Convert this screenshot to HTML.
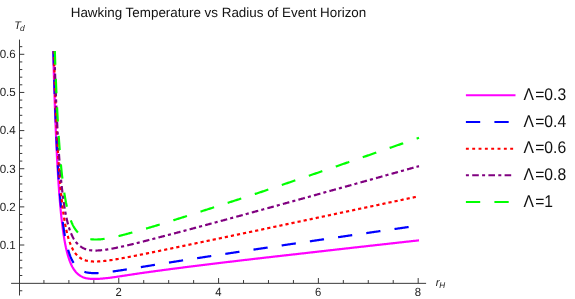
<!DOCTYPE html>
<html><head><meta charset="utf-8"><title>Hawking Temperature vs Radius of Event Horizon</title>
<style>
html,body{margin:0;padding:0;background:#fff;}
body{width:575px;height:299px;overflow:hidden;font-family:"Liberation Sans",sans-serif;}
svg{display:block;font-family:"Liberation Sans",sans-serif;will-change:transform;}
text{text-rendering:geometricPrecision;}
</style></head><body>
<svg width="575" height="299" viewBox="0 0 575 299">
<rect width="575" height="299" fill="#fff"/>
<defs><clipPath id="pc"><rect x="11" y="51.05" width="409" height="245"/></clipPath></defs>
<text x="218.5" y="16.8" text-anchor="middle" font-size="13.42px" fill="#111">Hawking Temperature vs Radius of Event Horizon</text>
<g stroke="#3a3a3a" stroke-width="1" fill="none">
<path d="M11.1,283.35H426.1M19.5,39.6V295.5"/>
<path d="M43.93,283.35v-3.3M68.88,283.35v-3.3M93.83,283.35v-3.3M118.78,283.35v-5.3M143.73,283.35v-3.3M168.68,283.35v-3.3M193.63,283.35v-3.3M218.58,283.35v-5.3M243.53,283.35v-3.3M268.48,283.35v-3.3M293.43,283.35v-3.3M318.38,283.35v-5.3M343.33,283.35v-3.3M368.28,283.35v-3.3M393.23,283.35v-3.3M418.18,283.35v-5.3M19.5,290.77h2.8M19.5,275.51h2.8M19.5,267.88h2.8M19.5,260.26h2.8M19.5,252.63h2.8M19.5,245.00h4.8M19.5,237.37h2.8M19.5,229.74h2.8M19.5,222.12h2.8M19.5,214.49h2.8M19.5,206.86h4.8M19.5,199.23h2.8M19.5,191.60h2.8M19.5,183.98h2.8M19.5,176.35h2.8M19.5,168.72h4.8M19.5,161.09h2.8M19.5,153.46h2.8M19.5,145.84h2.8M19.5,138.21h2.8M19.5,130.58h4.8M19.5,122.95h2.8M19.5,115.32h2.8M19.5,107.70h2.8M19.5,100.07h2.8M19.5,92.44h4.8M19.5,84.81h2.8M19.5,77.18h2.8M19.5,69.56h2.8M19.5,61.93h2.8M19.5,54.30h4.8M19.5,46.67h2.8"/>
</g>
<g font-size="11px" fill="#222"><text transform="translate(118.55,295.6) scale(1,1.06)" font-size="11.3px" text-anchor="middle">2</text><text transform="translate(218.35,295.6) scale(1,1.06)" font-size="11.3px" text-anchor="middle">4</text><text transform="translate(318.15,295.6) scale(1,1.06)" font-size="11.3px" text-anchor="middle">6</text><text transform="translate(417.95,295.6) scale(1,1.06)" font-size="11.3px" text-anchor="middle">8</text><text transform="translate(15.8,248.85) scale(1,1.02)" font-size="11.6px" text-anchor="end">0.1</text><text transform="translate(15.8,210.71) scale(1,1.02)" font-size="11.6px" text-anchor="end">0.2</text><text transform="translate(15.8,172.57) scale(1,1.02)" font-size="11.6px" text-anchor="end">0.3</text><text transform="translate(15.8,134.43) scale(1,1.02)" font-size="11.6px" text-anchor="end">0.4</text><text transform="translate(15.8,96.29) scale(1,1.02)" font-size="11.6px" text-anchor="end">0.5</text><text transform="translate(15.8,58.15) scale(1,1.02)" font-size="11.6px" text-anchor="end">0.6</text></g>
<text x="14.3" y="28.8" font-size="10.9px" font-style="italic" fill="#222">T<tspan font-size="8.4px" dx="-0.9" dy="1.7">d</tspan></text>
<text x="435.7" y="286" font-size="11px" font-style="italic" fill="#222">r<tspan font-size="8.2px" dx="-0.2" dy="1.5">H</tspan></text>
<g clip-path="url(#pc)">
<path d="M53.05,43.05 L53.13,46.31 L53.21,49.51 L53.29,52.67 L53.37,55.77 L53.45,58.83 L53.53,61.84 L53.61,64.81 L53.69,67.73 L53.77,70.60 L53.85,73.43 L53.93,76.22 L54.02,78.96 L54.10,81.67 L54.18,84.33 L54.26,86.95 L54.34,89.53 L54.42,92.07 L54.50,94.58 L54.58,97.05 L54.66,99.48 L54.74,101.87 L54.82,104.23 L54.90,106.55 L54.98,108.84 L55.06,111.10 L55.14,113.32 L55.22,115.51 L55.30,117.66 L55.38,119.79 L55.46,121.88 L55.54,123.94 L55.62,125.98 L55.70,127.98 L55.78,129.95 L55.86,131.90 L55.94,133.82 L56.02,135.70 L56.10,137.57 L56.18,139.40 L56.26,141.21 L56.34,142.99 L56.42,144.75 L56.50,146.48 L56.58,148.19 L56.66,149.87 L56.74,151.53 L56.82,153.17 L56.90,154.78 L56.98,156.37 L57.06,157.94 L57.14,159.48 L57.22,161.00 L57.30,162.51 L57.38,163.99 L57.46,165.45 L57.54,166.89 L57.62,168.31 L57.70,169.71 L57.78,171.09 L57.86,172.45 L57.94,173.79 L58.03,175.12 L58.11,176.42 L58.19,177.71 L58.27,178.98 L58.35,180.23 L58.43,181.47 L58.51,182.69 L58.59,183.89 L58.67,185.08 L58.75,186.25 L58.83,187.40 L58.91,188.54 L58.99,189.66 L59.07,190.77 L59.15,191.86 L59.23,192.94 L59.31,194.00 L59.39,195.05 L59.47,196.09 L59.55,197.11 L59.63,198.12 L59.71,199.11 L59.79,200.09 L59.87,201.06 L59.95,202.02 L60.03,202.96 L60.11,203.89 L60.19,204.81 L60.27,205.71 L60.35,206.61 L60.43,207.49 L60.51,208.36 L60.59,209.22 L60.67,210.07 L60.75,210.90 L60.83,211.73 L60.91,212.55 L60.99,213.35 L61.07,214.15 L61.15,214.93 L61.23,215.70 L61.31,216.47 L61.39,217.22 L61.47,217.97 L61.55,218.70 L61.63,219.43 L61.71,220.14 L61.79,220.85 L61.87,221.55 L61.95,222.24 L62.04,222.92 L62.12,223.59 L62.20,224.25 L62.28,224.91 L62.36,225.56 L62.44,226.19 L62.52,226.82 L62.60,227.45 L62.68,228.06 L62.76,228.67 L62.84,229.27 L62.92,229.86 L63.00,230.44 L63.08,231.02 L63.16,231.59 L63.24,232.15 L63.32,232.71 L63.40,233.26 L63.48,233.80 L63.56,234.34 L63.64,234.86 L63.72,235.39 L63.80,235.90 L63.88,236.41 L63.96,236.91 L64.04,237.41 L64.12,237.90 L64.20,238.39 L64.28,238.87 L64.36,239.34 L64.44,239.81 L64.52,240.27 L64.60,240.72 L64.68,241.17 L64.76,241.62 L64.84,242.06 L64.92,242.49 L65.00,242.92 L65.08,243.35 L65.16,243.76 L65.24,244.18 L65.32,244.59 L65.40,244.99 L65.48,245.39 L65.56,245.78 L65.64,246.17 L65.72,246.56 L65.80,246.94 L65.88,247.31 L65.96,247.68 L66.05,248.05 L66.13,248.41 L66.21,248.77 L66.29,249.12 L66.37,249.47 L66.45,249.82 L66.53,250.16 L66.61,250.50 L66.69,250.83 L66.77,251.16 L66.85,251.48 L66.93,251.80 L67.01,252.12 L67.09,252.44 L67.17,252.75 L67.25,253.05 L67.33,253.36 L67.41,253.66 L67.49,253.95 L67.57,254.24 L67.65,254.53 L67.73,254.82 L67.81,255.10 L67.89,255.38 L67.97,255.66 L68.05,255.93 L68.13,256.20 L68.21,256.46 L68.29,256.73 L68.37,256.99 L68.45,257.24 L68.53,257.50 L68.61,257.75 L68.69,258.00 L68.77,258.24 L68.85,258.49 L68.93,258.73 L69.01,258.96 L69.09,259.20 L69.17,259.43 L69.25,259.66 L69.33,259.88 L69.41,260.11 L69.49,260.33 L69.57,260.55 L69.65,260.76 L69.73,260.98 L69.81,261.19 L69.89,261.40 L69.97,261.60 L70.06,261.81 L70.14,262.01 L70.22,262.21 L70.30,262.41 L70.38,262.61 L70.46,262.81 L70.54,263.00 L70.62,263.19 L70.70,263.38 L70.78,263.57 L70.86,263.75 L70.94,263.93 L71.02,264.11 L71.10,264.29 L71.18,264.47 L71.26,264.64 L71.34,264.82 L71.42,264.99 L71.50,265.15 L71.58,265.32 L71.66,265.49 L71.74,265.65 L71.82,265.81 L71.90,265.97 L71.98,266.13 L72.06,266.28 L72.14,266.44 L72.22,266.59 L72.30,266.74 L72.38,266.89 L72.46,267.04 L72.54,267.18 L72.62,267.33 L72.70,267.47 L72.78,267.61 L72.86,267.75 L72.94,267.89 L73.02,268.03 L73.10,268.16 L73.18,268.29 L73.26,268.43 L73.34,268.56 L73.42,268.69 L73.50,268.81 L73.58,268.94 L73.66,269.07 L73.74,269.19 L73.82,269.31 L73.90,269.43 L73.98,269.55 L74.07,269.67 L74.15,269.79 L74.23,269.90 L74.31,270.02 L74.39,270.13 L74.47,270.24 L74.55,270.35 L74.63,270.46 L74.71,270.57 L74.79,270.68 L74.87,270.78 L74.95,270.89 L75.03,270.99 L75.11,271.09 L75.19,271.19 L75.27,271.29 L75.35,271.39 L75.43,271.49 L75.51,271.59 L75.59,271.68 L75.67,271.78 L75.75,271.87 L75.83,271.96 L75.91,272.06 L75.99,272.15 L76.07,272.24 L76.15,272.33 L76.23,272.41 L76.31,272.50 L76.39,272.59 L76.47,272.67 L76.55,272.75 L76.63,272.84 L76.71,272.92 L76.79,273.00 L76.87,273.08 L76.95,273.16 L77.03,273.24 L77.11,273.32 L77.19,273.39 L77.27,273.47 L77.35,273.55 L77.43,273.62 L77.51,273.69 L77.59,273.77 L77.67,273.84 L77.75,273.91 L77.83,273.98 L77.91,274.05 L77.99,274.12 L78.08,274.19 L78.16,274.25 L78.24,274.32 L78.32,274.38 L78.40,274.45 L78.48,274.51 L78.56,274.58 L78.64,274.64 L78.72,274.70 L78.80,274.76 L78.88,274.83 L78.96,274.89 L79.04,274.95 L79.12,275.00 L79.20,275.06 L79.28,275.12 L79.36,275.18 L79.44,275.23 L79.52,275.29 L79.60,275.34 L79.68,275.40 L79.76,275.45 L79.84,275.50 L79.92,275.56 L80.00,275.61 L80.20,275.74 L80.88,276.14 L81.56,276.51 L82.24,276.84 L82.92,277.15 L83.59,277.42 L84.27,277.67 L84.95,277.89 L85.63,278.07 L86.31,278.23 L86.99,278.36 L87.67,278.48 L88.35,278.59 L89.03,278.67 L89.71,278.75 L90.38,278.81 L91.06,278.86 L91.74,278.90 L92.42,278.93 L93.10,278.95 L93.78,278.96 L94.46,278.96 L95.14,278.95 L95.82,278.94 L96.49,278.92 L97.17,278.90 L97.85,278.87 L98.53,278.83 L99.21,278.79 L99.89,278.75 L100.57,278.70 L101.25,278.65 L101.93,278.59 L102.61,278.53 L103.28,278.47 L103.96,278.41 L104.64,278.34 L105.32,278.27 L106.00,278.20 L106.68,278.12 L107.36,278.05 L108.04,277.97 L108.72,277.89 L109.40,277.81 L110.07,277.73 L110.75,277.63 L111.43,277.54 L112.11,277.45 L112.79,277.36 L113.47,277.26 L114.15,277.16 L114.83,277.07 L115.51,276.97 L116.18,276.87 L116.86,276.77 L117.54,276.67 L118.22,276.57 L118.90,276.47 L119.58,276.37 L120.26,276.27 L120.94,276.17 L121.62,276.07 L122.30,275.96 L122.97,275.86 L123.65,275.76 L124.33,275.66 L125.01,275.55 L125.69,275.45 L126.37,275.35 L127.05,275.24 L127.73,275.14 L128.41,275.03 L129.08,274.93 L129.76,274.83 L130.44,274.72 L131.12,274.62 L131.80,274.51 L132.48,274.41 L133.16,274.31 L133.84,274.20 L134.52,274.10 L135.20,273.99 L135.87,273.89 L136.55,273.79 L137.23,273.68 L137.91,273.58 L138.59,273.48 L139.27,273.37 L139.95,273.27 L140.63,273.17 L141.31,273.08 L141.99,272.98 L142.66,272.89 L143.34,272.79 L144.02,272.70 L144.70,272.61 L145.38,272.51 L146.06,272.42 L146.74,272.32 L147.42,272.23 L148.10,272.14 L148.77,272.04 L149.45,271.95 L150.13,271.86 L150.81,271.76 L151.49,271.67 L152.17,271.58 L152.85,271.48 L153.53,271.39 L154.21,271.30 L154.89,271.21 L155.56,271.11 L156.24,271.02 L156.92,270.93 L157.60,270.84 L158.28,270.75 L158.96,270.66 L159.64,270.56 L160.32,270.47 L161.00,270.38 L161.67,270.29 L162.35,270.20 L163.03,270.11 L163.71,270.02 L164.39,269.93 L165.07,269.84 L165.75,269.75 L166.43,269.66 L167.11,269.57 L167.79,269.48 L168.46,269.39 L169.14,269.30 L169.82,269.21 L170.50,269.12 L171.18,269.03 L171.86,268.95 L172.54,268.86 L173.22,268.77 L173.90,268.68 L174.58,268.59 L175.25,268.50 L175.93,268.42 L176.61,268.33 L177.29,268.24 L177.97,268.15 L178.65,268.07 L179.33,267.98 L180.01,267.89 L180.69,267.80 L181.36,267.72 L182.04,267.63 L182.72,267.54 L183.40,267.46 L184.08,267.37 L184.76,267.28 L185.44,267.20 L186.12,267.11 L186.80,267.02 L187.48,266.94 L188.15,266.85 L188.83,266.77 L189.51,266.68 L190.19,266.60 L190.87,266.51 L191.55,266.43 L192.23,266.34 L192.91,266.25 L193.59,266.17 L194.26,266.09 L194.94,266.00 L195.62,265.92 L196.30,265.83 L196.98,265.75 L197.66,265.66 L198.34,265.58 L199.02,265.49 L199.70,265.41 L200.38,265.33 L201.05,265.24 L201.73,265.16 L202.41,265.07 L203.09,264.99 L203.77,264.91 L204.45,264.82 L205.13,264.74 L205.81,264.66 L206.49,264.57 L207.17,264.49 L207.84,264.41 L208.52,264.32 L209.20,264.24 L209.88,264.16 L210.56,264.08 L211.24,263.99 L211.92,263.91 L212.60,263.83 L213.28,263.75 L213.95,263.66 L214.63,263.58 L215.31,263.50 L215.99,263.42 L216.67,263.33 L217.35,263.25 L218.03,263.17 L218.71,263.09 L219.39,263.01 L220.07,262.93 L220.74,262.84 L221.42,262.76 L222.10,262.68 L222.78,262.60 L223.46,262.52 L224.14,262.44 L224.82,262.36 L225.50,262.27 L226.18,262.19 L226.85,262.11 L227.53,262.03 L228.21,261.95 L228.89,261.87 L229.57,261.79 L230.25,261.71 L230.93,261.63 L231.61,261.55 L232.29,261.47 L232.97,261.39 L233.64,261.31 L234.32,261.23 L235.00,261.15 L235.68,261.07 L236.36,260.99 L237.04,260.91 L237.72,260.83 L238.40,260.75 L239.08,260.67 L239.76,260.59 L240.43,260.51 L241.11,260.43 L241.79,260.35 L242.47,260.27 L243.15,260.19 L243.83,260.11 L244.51,260.03 L245.19,259.95 L245.87,259.87 L246.54,259.79 L247.22,259.72 L247.90,259.64 L248.58,259.56 L249.26,259.48 L249.94,259.40 L250.62,259.32 L251.30,259.24 L251.98,259.16 L252.66,259.09 L253.33,259.01 L254.01,258.93 L254.69,258.85 L255.37,258.77 L256.05,258.69 L256.73,258.62 L257.41,258.54 L258.09,258.46 L258.77,258.38 L259.44,258.30 L260.12,258.23 L260.80,258.15 L261.48,258.07 L262.16,257.99 L262.84,257.91 L263.52,257.84 L264.20,257.76 L264.88,257.68 L265.56,257.60 L266.23,257.53 L266.91,257.45 L267.59,257.37 L268.27,257.29 L268.95,257.22 L269.63,257.14 L270.31,257.06 L270.99,256.98 L271.67,256.91 L272.35,256.83 L273.02,256.75 L273.70,256.67 L274.38,256.60 L275.06,256.52 L275.74,256.44 L276.42,256.37 L277.10,256.29 L277.78,256.21 L278.46,256.14 L279.13,256.06 L279.81,255.98 L280.49,255.90 L281.17,255.83 L281.85,255.75 L282.53,255.67 L283.21,255.60 L283.89,255.52 L284.57,255.44 L285.25,255.37 L285.92,255.29 L286.60,255.21 L287.28,255.14 L287.96,255.06 L288.64,254.99 L289.32,254.91 L290.00,254.83 L290.68,254.76 L291.36,254.68 L292.03,254.60 L292.71,254.53 L293.39,254.45 L294.07,254.37 L294.75,254.30 L295.43,254.22 L296.11,254.15 L296.79,254.07 L297.47,253.99 L298.15,253.92 L298.82,253.84 L299.50,253.77 L300.18,253.69 L300.86,253.61 L301.54,253.53 L302.22,253.46 L302.90,253.38 L303.58,253.30 L304.26,253.22 L304.94,253.15 L305.61,253.07 L306.29,252.99 L306.97,252.91 L307.65,252.83 L308.33,252.76 L309.01,252.68 L309.69,252.60 L310.37,252.52 L311.05,252.45 L311.72,252.37 L312.40,252.29 L313.08,252.21 L313.76,252.14 L314.44,252.06 L315.12,251.98 L315.80,251.90 L316.48,251.83 L317.16,251.75 L317.84,251.67 L318.51,251.60 L319.19,251.52 L319.87,251.44 L320.55,251.36 L321.23,251.29 L321.91,251.21 L322.59,251.13 L323.27,251.06 L323.95,250.98 L324.62,250.90 L325.30,250.82 L325.98,250.75 L326.66,250.67 L327.34,250.59 L328.02,250.52 L328.70,250.44 L329.38,250.36 L330.06,250.29 L330.74,250.21 L331.41,250.13 L332.09,250.06 L332.77,249.98 L333.45,249.90 L334.13,249.83 L334.81,249.75 L335.49,249.67 L336.17,249.60 L336.85,249.52 L337.53,249.44 L338.20,249.37 L338.88,249.29 L339.56,249.21 L340.24,249.14 L340.92,249.06 L341.60,248.98 L342.28,248.91 L342.96,248.83 L343.64,248.75 L344.31,248.68 L344.99,248.60 L345.67,248.52 L346.35,248.45 L347.03,248.37 L347.71,248.29 L348.39,248.22 L349.07,248.14 L349.75,248.07 L350.43,247.99 L351.10,247.91 L351.78,247.84 L352.46,247.76 L353.14,247.68 L353.82,247.61 L354.50,247.53 L355.18,247.46 L355.86,247.38 L356.54,247.30 L357.21,247.23 L357.89,247.15 L358.57,247.08 L359.25,247.00 L359.93,246.92 L360.61,246.85 L361.29,246.77 L361.97,246.69 L362.65,246.62 L363.33,246.54 L364.00,246.47 L364.68,246.39 L365.36,246.31 L366.04,246.24 L366.72,246.16 L367.40,246.09 L368.08,246.01 L368.76,245.94 L369.44,245.86 L370.12,245.78 L370.79,245.71 L371.47,245.63 L372.15,245.56 L372.83,245.48 L373.51,245.40 L374.19,245.33 L374.87,245.25 L375.55,245.18 L376.23,245.10 L376.90,245.03 L377.58,244.95 L378.26,244.87 L378.94,244.80 L379.62,244.72 L380.30,244.65 L380.98,244.57 L381.66,244.50 L382.34,244.42 L383.02,244.35 L383.69,244.27 L384.37,244.19 L385.05,244.12 L385.73,244.04 L386.41,243.97 L387.09,243.89 L387.77,243.82 L388.45,243.74 L389.13,243.67 L389.80,243.59 L390.48,243.51 L391.16,243.44 L391.84,243.36 L392.52,243.29 L393.20,243.21 L393.88,243.14 L394.56,243.06 L395.24,242.99 L395.92,242.91 L396.59,242.84 L397.27,242.76 L397.95,242.69 L398.63,242.61 L399.31,242.53 L399.99,242.46 L400.67,242.38 L401.35,242.31 L402.03,242.23 L402.71,242.16 L403.38,242.08 L404.06,242.01 L404.74,241.93 L405.42,241.86 L406.10,241.78 L406.78,241.71 L407.46,241.63 L408.14,241.56 L408.82,241.48 L409.49,241.41 L410.17,241.33 L410.85,241.26 L411.53,241.18 L412.21,241.11 L412.89,241.03 L413.57,240.96 L414.25,240.88 L414.93,240.81 L415.61,240.73 L416.28,240.66 L416.96,240.58 L417.64,240.51 L418.32,240.43 L419.00,240.36" fill="none" stroke="#ff00ff" stroke-width="2.2"/>
<path d="M53.21,41.68 L53.29,44.85 L53.37,47.97 L53.45,51.04 L53.53,54.06 L53.61,57.04 L53.69,59.97 L53.77,62.86 L53.85,65.70 L53.93,68.50 L54.02,71.26 L54.10,73.97 L54.18,76.65 L54.26,79.28 L54.34,81.87 L54.42,84.43 L54.50,86.95 L54.58,89.42 L54.66,91.87 L54.74,94.27 L54.82,96.64 L54.90,98.98 L54.98,101.28 L55.06,103.54 L55.14,105.78 L55.22,107.98 L55.30,110.14 L55.38,112.28 L55.46,114.38 L55.54,116.46 L55.62,118.50 L55.70,120.51 L55.78,122.50 L55.86,124.46 L55.94,126.38 L56.02,128.28 L56.10,130.16 L56.18,132.00 L56.26,133.82 L56.34,135.61 L56.42,137.38 L56.50,139.12 L56.58,140.84 L56.66,142.53 L56.74,144.20 L56.82,145.85 L56.90,147.47 L56.98,149.07 L57.06,150.65 L57.14,152.20 L57.22,153.74 L57.30,155.25 L57.38,156.74 L57.46,158.21 L57.54,159.66 L57.62,161.09 L57.70,162.50 L57.78,163.89 L57.86,165.26 L57.94,166.61 L58.03,167.94 L58.11,169.26 L58.19,170.55 L58.27,171.83 L58.35,173.10 L58.43,174.34 L58.51,175.57 L58.59,176.78 L58.67,177.97 L58.75,179.15 L58.83,180.31 L58.91,181.46 L58.99,182.59 L59.07,183.71 L59.15,184.81 L59.23,185.90 L59.31,186.97 L59.39,188.03 L59.47,189.07 L59.55,190.10 L59.63,191.12 L59.71,192.12 L59.79,193.11 L59.87,194.09 L59.95,195.05 L60.03,196.00 L60.11,196.94 L60.19,197.86 L60.27,198.78 L60.35,199.68 L60.43,200.57 L60.51,201.45 L60.59,202.32 L60.67,203.17 L60.75,204.02 L60.83,204.85 L60.91,205.67 L60.99,206.49 L61.07,207.29 L61.15,208.08 L61.23,208.86 L61.31,209.63 L61.39,210.40 L61.47,211.15 L61.55,211.89 L61.63,212.62 L61.71,213.35 L61.79,214.06 L61.87,214.77 L61.95,215.46 L62.04,216.15 L62.12,216.83 L62.20,217.50 L62.28,218.16 L62.36,218.81 L62.44,219.46 L62.52,220.10 L62.60,220.73 L62.68,221.35 L62.76,221.96 L62.84,222.57 L62.92,223.17 L63.00,223.76 L63.08,224.34 L63.16,224.92 L63.24,225.49 L63.32,226.05 L63.40,226.60 L63.48,227.15 L63.56,227.69 L63.64,228.23 L63.72,228.76 L63.80,229.28 L63.88,229.80 L63.96,230.31 L64.04,230.81 L64.12,231.31 L64.20,231.80 L64.28,232.28 L64.36,232.76 L64.44,233.23 L64.52,233.70 L64.60,234.16 L64.68,234.62 L64.76,235.07 L64.84,235.52 L64.92,235.96 L65.00,236.39 L65.08,236.82 L65.16,237.24 L65.24,237.66 L65.32,238.08 L65.40,238.49 L65.48,238.89 L65.56,239.29 L65.64,239.69 L65.72,240.08 L65.80,240.46 L65.88,240.84 L65.96,241.22 L66.05,241.59 L66.13,241.96 L66.21,242.32 L66.29,242.68 L66.37,243.04 L66.45,243.39 L66.53,243.73 L66.61,244.08 L66.69,244.41 L66.77,244.75 L66.85,245.08 L66.93,245.41 L67.01,245.73 L67.09,246.05 L67.17,246.36 L67.25,246.67 L67.33,246.98 L67.41,247.29 L67.49,247.59 L67.57,247.88 L67.65,248.18 L67.73,248.47 L67.81,248.76 L67.89,249.04 L67.97,249.32 L68.05,249.60 L68.13,249.87 L68.21,250.14 L68.29,250.41 L68.37,250.68 L68.45,250.94 L68.53,251.20 L68.61,251.45 L68.69,251.71 L68.77,251.96 L68.85,252.20 L68.93,252.45 L69.01,252.69 L69.09,252.93 L69.17,253.16 L69.25,253.40 L69.33,253.63 L69.41,253.85 L69.49,254.08 L69.57,254.30 L69.65,254.52 L69.73,254.74 L69.81,254.96 L69.89,255.17 L69.97,255.38 L70.06,255.59 L70.14,255.80 L70.22,256.00 L70.30,256.20 L70.38,256.41 L70.46,256.60 L70.54,256.80 L70.62,256.99 L70.70,257.19 L70.78,257.37 L70.86,257.56 L70.94,257.75 L71.02,257.93 L71.10,258.11 L71.18,258.29 L71.26,258.47 L71.34,258.64 L71.42,258.82 L71.50,258.99 L71.58,259.16 L71.66,259.33 L71.74,259.49 L71.82,259.66 L71.90,259.82 L71.98,259.98 L72.06,260.14 L72.14,260.29 L72.22,260.45 L72.30,260.60 L72.38,260.75 L72.46,260.90 L72.54,261.05 L72.62,261.20 L72.70,261.34 L72.78,261.49 L72.86,261.63 L72.94,261.77 L73.02,261.91 L73.10,262.05 L73.18,262.18 L73.26,262.32 L73.34,262.45 L73.42,262.58 L73.50,262.71 L73.58,262.84 L73.66,262.97 L73.74,263.09 L73.82,263.22 L73.90,263.34 L73.98,263.46 L74.07,263.58 L74.15,263.70 L74.23,263.82 L74.31,263.93 L74.39,264.05 L74.47,264.16 L74.55,264.28 L74.63,264.39 L74.71,264.50 L74.79,264.61 L74.87,264.71 L74.95,264.82 L75.03,264.93 L75.11,265.03 L75.19,265.13 L75.27,265.24 L75.35,265.34 L75.43,265.44 L75.51,265.53 L75.59,265.63 L75.67,265.73 L75.75,265.82 L75.83,265.92 L75.91,266.01 L75.99,266.10 L76.07,266.20 L76.15,266.29 L76.23,266.38 L76.31,266.46 L76.39,266.55 L76.47,266.64 L76.55,266.72 L76.63,266.81 L76.71,266.89 L76.79,266.98 L76.87,267.06 L76.95,267.14 L77.03,267.22 L77.11,267.30 L77.19,267.38 L77.27,267.45 L77.35,267.53 L77.43,267.61 L77.51,267.68 L77.59,267.75 L77.67,267.83 L77.75,267.90 L77.83,267.97 L77.91,268.04 L77.99,268.11 L78.08,268.18 L78.16,268.25 L78.24,268.32 L78.32,268.39 L78.40,268.45 L78.48,268.52 L78.56,268.58 L78.64,268.65 L78.72,268.71 L78.80,268.77 L78.88,268.84 L78.96,268.90 L79.04,268.96 L79.12,269.02 L79.20,269.08 L79.28,269.14 L79.36,269.19 L79.44,269.25 L79.52,269.31 L79.60,269.36 L79.68,269.42 L79.76,269.47 L79.84,269.53 L79.92,269.58 L80.00,269.63 L80.20,269.76 L80.88,270.18 L81.56,270.55 L82.24,270.89 L82.92,271.20 L83.59,271.48 L84.27,271.73 L84.95,271.95 L85.63,272.14 L86.31,272.31 L86.99,272.46 L87.67,272.59 L88.35,272.70 L89.03,272.79 L89.71,272.88 L90.38,272.94 L91.06,273.00 L91.74,273.04 L92.42,273.08 L93.10,273.10 L93.78,273.11 L94.46,273.12 L95.14,273.12 L95.82,273.11 L96.49,273.09 L97.17,273.07 L97.85,273.04 L98.53,273.01 L99.21,272.97 L99.89,272.92 L100.57,272.87 L101.25,272.82 L101.93,272.76 L102.61,272.70 L103.28,272.64 L103.96,272.57 L104.64,272.50 L105.32,272.43 L106.00,272.35 L106.68,272.27 L107.36,272.19 L108.04,272.11 L108.72,272.03 L109.40,271.94 L110.07,271.85 L110.75,271.76 L111.43,271.67 L112.11,271.58 L112.79,271.49 L113.47,271.39 L114.15,271.29 L114.83,271.20 L115.51,271.10 L116.18,271.00 L116.86,270.90 L117.54,270.80 L118.22,270.70 L118.90,270.60 L119.58,270.49 L120.26,270.39 L120.94,270.29 L121.62,270.18 L122.30,270.08 L122.97,269.97 L123.65,269.87 L124.33,269.76 L125.01,269.65 L125.69,269.55 L126.37,269.44 L127.05,269.33 L127.73,269.22 L128.41,269.11 L129.08,269.01 L129.76,268.90 L130.44,268.79 L131.12,268.68 L131.80,268.57 L132.48,268.46 L133.16,268.35 L133.84,268.24 L134.52,268.13 L135.20,268.02 L135.87,267.91 L136.55,267.80 L137.23,267.69 L137.91,267.59 L138.59,267.48 L139.27,267.37 L139.95,267.26 L140.63,267.15 L141.31,267.04 L141.99,266.93 L142.66,266.82 L143.34,266.71 L144.02,266.60 L144.70,266.49 L145.38,266.38 L146.06,266.27 L146.74,266.16 L147.42,266.05 L148.10,265.94 L148.77,265.83 L149.45,265.72 L150.13,265.61 L150.81,265.50 L151.49,265.39 L152.17,265.28 L152.85,265.17 L153.53,265.06 L154.21,264.95 L154.89,264.84 L155.56,264.73 L156.24,264.62 L156.92,264.51 L157.60,264.41 L158.28,264.30 L158.96,264.19 L159.64,264.08 L160.32,263.97 L161.00,263.86 L161.67,263.75 L162.35,263.64 L163.03,263.54 L163.71,263.43 L164.39,263.32 L165.07,263.21 L165.75,263.10 L166.43,262.99 L167.11,262.89 L167.79,262.78 L168.46,262.67 L169.14,262.56 L169.82,262.46 L170.50,262.35 L171.18,262.24 L171.86,262.13 L172.54,262.03 L173.22,261.92 L173.90,261.81 L174.58,261.70 L175.25,261.60 L175.93,261.49 L176.61,261.38 L177.29,261.28 L177.97,261.17 L178.65,261.06 L179.33,260.96 L180.01,260.85 L180.69,260.74 L181.36,260.64 L182.04,260.53 L182.72,260.42 L183.40,260.32 L184.08,260.21 L184.76,260.10 L185.44,260.00 L186.12,259.89 L186.80,259.79 L187.48,259.68 L188.15,259.57 L188.83,259.47 L189.51,259.36 L190.19,259.26 L190.87,259.15 L191.55,259.05 L192.23,258.94 L192.91,258.84 L193.59,258.73 L194.26,258.63 L194.94,258.52 L195.62,258.42 L196.30,258.31 L196.98,258.21 L197.66,258.10 L198.34,258.00 L199.02,257.89 L199.70,257.79 L200.38,257.68 L201.05,257.58 L201.73,257.47 L202.41,257.37 L203.09,257.26 L203.77,257.16 L204.45,257.05 L205.13,256.95 L205.81,256.85 L206.49,256.74 L207.17,256.64 L207.84,256.53 L208.52,256.43 L209.20,256.33 L209.88,256.22 L210.56,256.12 L211.24,256.01 L211.92,255.91 L212.60,255.81 L213.28,255.70 L213.95,255.60 L214.63,255.50 L215.31,255.39 L215.99,255.29 L216.67,255.19 L217.35,255.08 L218.03,254.98 L218.71,254.88 L219.39,254.77 L220.07,254.67 L220.74,254.57 L221.42,254.46 L222.10,254.36 L222.78,254.26 L223.46,254.15 L224.14,254.05 L224.82,253.95 L225.50,253.85 L226.18,253.74 L226.85,253.64 L227.53,253.54 L228.21,253.44 L228.89,253.33 L229.57,253.23 L230.25,253.13 L230.93,253.03 L231.61,252.92 L232.29,252.82 L232.97,252.72 L233.64,252.62 L234.32,252.51 L235.00,252.41 L235.68,252.31 L236.36,252.21 L237.04,252.10 L237.72,252.00 L238.40,251.90 L239.08,251.80 L239.76,251.70 L240.43,251.59 L241.11,251.49 L241.79,251.39 L242.47,251.29 L243.15,251.19 L243.83,251.09 L244.51,250.98 L245.19,250.88 L245.87,250.78 L246.54,250.68 L247.22,250.58 L247.90,250.48 L248.58,250.37 L249.26,250.27 L249.94,250.17 L250.62,250.07 L251.30,249.97 L251.98,249.87 L252.66,249.77 L253.33,249.66 L254.01,249.56 L254.69,249.46 L255.37,249.36 L256.05,249.26 L256.73,249.16 L257.41,249.06 L258.09,248.96 L258.77,248.86 L259.44,248.75 L260.12,248.65 L260.80,248.55 L261.48,248.45 L262.16,248.35 L262.84,248.25 L263.52,248.15 L264.20,248.05 L264.88,247.95 L265.56,247.85 L266.23,247.75 L266.91,247.64 L267.59,247.54 L268.27,247.44 L268.95,247.34 L269.63,247.24 L270.31,247.14 L270.99,247.04 L271.67,246.94 L272.35,246.84 L273.02,246.74 L273.70,246.64 L274.38,246.54 L275.06,246.44 L275.74,246.34 L276.42,246.24 L277.10,246.14 L277.78,246.04 L278.46,245.94 L279.13,245.84 L279.81,245.74 L280.49,245.64 L281.17,245.54 L281.85,245.44 L282.53,245.34 L283.21,245.23 L283.89,245.13 L284.57,245.03 L285.25,244.93 L285.92,244.83 L286.60,244.73 L287.28,244.63 L287.96,244.53 L288.64,244.43 L289.32,244.33 L290.00,244.23 L290.68,244.13 L291.36,244.03 L292.03,243.93 L292.71,243.84 L293.39,243.74 L294.07,243.64 L294.75,243.54 L295.43,243.44 L296.11,243.34 L296.79,243.24 L297.47,243.14 L298.15,243.04 L298.82,242.94 L299.50,242.84 L300.18,242.74 L300.86,242.64 L301.54,242.54 L302.22,242.44 L302.90,242.34 L303.58,242.24 L304.26,242.14 L304.94,242.04 L305.61,241.94 L306.29,241.84 L306.97,241.74 L307.65,241.64 L308.33,241.54 L309.01,241.44 L309.69,241.34 L310.37,241.25 L311.05,241.15 L311.72,241.05 L312.40,240.95 L313.08,240.85 L313.76,240.75 L314.44,240.65 L315.12,240.55 L315.80,240.45 L316.48,240.35 L317.16,240.25 L317.84,240.15 L318.51,240.05 L319.19,239.95 L319.87,239.86 L320.55,239.76 L321.23,239.66 L321.91,239.56 L322.59,239.46 L323.27,239.36 L323.95,239.26 L324.62,239.16 L325.30,239.06 L325.98,238.96 L326.66,238.86 L327.34,238.77 L328.02,238.67 L328.70,238.57 L329.38,238.47 L330.06,238.37 L330.74,238.27 L331.41,238.17 L332.09,238.07 L332.77,237.97 L333.45,237.88 L334.13,237.78 L334.81,237.68 L335.49,237.58 L336.17,237.48 L336.85,237.38 L337.53,237.28 L338.20,237.18 L338.88,237.09 L339.56,236.99 L340.24,236.89 L340.92,236.79 L341.60,236.69 L342.28,236.59 L342.96,236.49 L343.64,236.39 L344.31,236.30 L344.99,236.20 L345.67,236.10 L346.35,236.00 L347.03,235.90 L347.71,235.80 L348.39,235.70 L349.07,235.60 L349.75,235.51 L350.43,235.41 L351.10,235.31 L351.78,235.21 L352.46,235.11 L353.14,235.01 L353.82,234.92 L354.50,234.82 L355.18,234.72 L355.86,234.62 L356.54,234.52 L357.21,234.42 L357.89,234.32 L358.57,234.23 L359.25,234.13 L359.93,234.03 L360.61,233.93 L361.29,233.83 L361.97,233.73 L362.65,233.64 L363.33,233.54 L364.00,233.44 L364.68,233.34 L365.36,233.24 L366.04,233.14 L366.72,233.05 L367.40,232.95 L368.08,232.85 L368.76,232.75 L369.44,232.65 L370.12,232.55 L370.79,232.46 L371.47,232.36 L372.15,232.26 L372.83,232.16 L373.51,232.06 L374.19,231.96 L374.87,231.87 L375.55,231.77 L376.23,231.67 L376.90,231.57 L377.58,231.47 L378.26,231.38 L378.94,231.28 L379.62,231.18 L380.30,231.08 L380.98,230.98 L381.66,230.88 L382.34,230.79 L383.02,230.69 L383.69,230.59 L384.37,230.49 L385.05,230.39 L385.73,230.30 L386.41,230.20 L387.09,230.10 L387.77,230.00 L388.45,229.90 L389.13,229.81 L389.80,229.71 L390.48,229.61 L391.16,229.51 L391.84,229.41 L392.52,229.32 L393.20,229.22 L393.88,229.12 L394.56,229.02 L395.24,228.92 L395.92,228.83 L396.59,228.73 L397.27,228.63 L397.95,228.53 L398.63,228.43 L399.31,228.34 L399.99,228.24 L400.67,228.14 L401.35,228.04 L402.03,227.95 L402.71,227.85 L403.38,227.75 L404.06,227.65 L404.74,227.55 L405.42,227.46 L406.10,227.36 L406.78,227.26 L407.46,227.16 L408.14,227.06 L408.82,226.97 L409.49,226.87 L410.17,226.77 L410.85,226.67 L411.53,226.58 L412.21,226.48 L412.89,226.38 L413.57,226.28 L414.25,226.18 L414.93,226.09 L415.61,225.99 L416.28,225.89 L416.96,225.79 L417.64,225.70 L418.32,225.60 L419.00,225.50" fill="none" stroke="#0000ff" stroke-width="2.2" stroke-dasharray="14.3 14.2" stroke-dashoffset="19.02"/>
<path d="M53.61,41.50 L53.69,44.46 L53.77,47.37 L53.85,50.24 L53.93,53.06 L54.02,55.85 L54.10,58.58 L54.18,61.28 L54.26,63.94 L54.34,66.56 L54.42,69.14 L54.50,71.68 L54.58,74.18 L54.66,76.65 L54.74,79.07 L54.82,81.47 L54.90,83.82 L54.98,86.15 L55.06,88.44 L55.14,90.69 L55.22,92.91 L55.30,95.10 L55.38,97.26 L55.46,99.39 L55.54,101.48 L55.62,103.55 L55.70,105.59 L55.78,107.59 L55.86,109.57 L55.94,111.52 L56.02,113.44 L56.10,115.33 L56.18,117.20 L56.26,119.04 L56.34,120.85 L56.42,122.64 L56.50,124.40 L56.58,126.14 L56.66,127.86 L56.74,129.55 L56.82,131.21 L56.90,132.85 L56.98,134.47 L57.06,136.07 L57.14,137.64 L57.22,139.20 L57.30,140.73 L57.38,142.24 L57.46,143.73 L57.54,145.20 L57.62,146.64 L57.70,148.07 L57.78,149.48 L57.86,150.87 L57.94,152.24 L58.03,153.59 L58.11,154.93 L58.19,156.24 L58.27,157.54 L58.35,158.82 L58.43,160.08 L58.51,161.33 L58.59,162.56 L58.67,163.77 L58.75,164.97 L58.83,166.15 L58.91,167.31 L58.99,168.46 L59.07,169.59 L59.15,170.71 L59.23,171.82 L59.31,172.90 L59.39,173.98 L59.47,175.04 L59.55,176.09 L59.63,177.12 L59.71,178.14 L59.79,179.14 L59.87,180.14 L59.95,181.12 L60.03,182.08 L60.11,183.04 L60.19,183.98 L60.27,184.91 L60.35,185.83 L60.43,186.73 L60.51,187.63 L60.59,188.51 L60.67,189.38 L60.75,190.24 L60.83,191.09 L60.91,191.93 L60.99,192.76 L61.07,193.58 L61.15,194.38 L61.23,195.18 L61.31,195.97 L61.39,196.74 L61.47,197.51 L61.55,198.27 L61.63,199.01 L61.71,199.75 L61.79,200.48 L61.87,201.20 L61.95,201.91 L62.04,202.61 L62.12,203.30 L62.20,203.99 L62.28,204.66 L62.36,205.33 L62.44,205.99 L62.52,206.64 L62.60,207.29 L62.68,207.92 L62.76,208.55 L62.84,209.17 L62.92,209.78 L63.00,210.38 L63.08,210.98 L63.16,211.57 L63.24,212.15 L63.32,212.73 L63.40,213.30 L63.48,213.86 L63.56,214.41 L63.64,214.96 L63.72,215.50 L63.80,216.04 L63.88,216.56 L63.96,217.09 L64.04,217.60 L64.12,218.11 L64.20,218.61 L64.28,219.11 L64.36,219.60 L64.44,220.09 L64.52,220.57 L64.60,221.04 L64.68,221.51 L64.76,221.97 L64.84,222.43 L64.92,222.88 L65.00,223.33 L65.08,223.77 L65.16,224.21 L65.24,224.64 L65.32,225.06 L65.40,225.48 L65.48,225.90 L65.56,226.31 L65.64,226.72 L65.72,227.12 L65.80,227.51 L65.88,227.91 L65.96,228.29 L66.05,228.68 L66.13,229.05 L66.21,229.43 L66.29,229.80 L66.37,230.16 L66.45,230.53 L66.53,230.88 L66.61,231.24 L66.69,231.58 L66.77,231.93 L66.85,232.27 L66.93,232.61 L67.01,232.94 L67.09,233.27 L67.17,233.59 L67.25,233.92 L67.33,234.23 L67.41,234.55 L67.49,234.86 L67.57,235.17 L67.65,235.47 L67.73,235.77 L67.81,236.07 L67.89,236.36 L67.97,236.65 L68.05,236.94 L68.13,237.22 L68.21,237.50 L68.29,237.78 L68.37,238.05 L68.45,238.32 L68.53,238.59 L68.61,238.86 L68.69,239.12 L68.77,239.38 L68.85,239.64 L68.93,239.89 L69.01,240.14 L69.09,240.39 L69.17,240.63 L69.25,240.87 L69.33,241.11 L69.41,241.35 L69.49,241.58 L69.57,241.82 L69.65,242.04 L69.73,242.27 L69.81,242.50 L69.89,242.72 L69.97,242.94 L70.06,243.15 L70.14,243.37 L70.22,243.58 L70.30,243.79 L70.38,243.99 L70.46,244.20 L70.54,244.40 L70.62,244.60 L70.70,244.80 L70.78,245.00 L70.86,245.19 L70.94,245.38 L71.02,245.57 L71.10,245.76 L71.18,245.94 L71.26,246.13 L71.34,246.31 L71.42,246.49 L71.50,246.67 L71.58,246.84 L71.66,247.02 L71.74,247.19 L71.82,247.36 L71.90,247.52 L71.98,247.69 L72.06,247.86 L72.14,248.02 L72.22,248.18 L72.30,248.34 L72.38,248.49 L72.46,248.65 L72.54,248.80 L72.62,248.96 L72.70,249.11 L72.78,249.26 L72.86,249.40 L72.94,249.55 L73.02,249.69 L73.10,249.84 L73.18,249.98 L73.26,250.12 L73.34,250.25 L73.42,250.39 L73.50,250.53 L73.58,250.66 L73.66,250.79 L73.74,250.92 L73.82,251.05 L73.90,251.18 L73.98,251.31 L74.07,251.43 L74.15,251.55 L74.23,251.68 L74.31,251.80 L74.39,251.92 L74.47,252.04 L74.55,252.15 L74.63,252.27 L74.71,252.38 L74.79,252.50 L74.87,252.61 L74.95,252.72 L75.03,252.83 L75.11,252.94 L75.19,253.05 L75.27,253.15 L75.35,253.26 L75.43,253.36 L75.51,253.47 L75.59,253.57 L75.67,253.67 L75.75,253.77 L75.83,253.87 L75.91,253.96 L75.99,254.06 L76.07,254.15 L76.15,254.25 L76.23,254.34 L76.31,254.43 L76.39,254.53 L76.47,254.62 L76.55,254.71 L76.63,254.79 L76.71,254.88 L76.79,254.97 L76.87,255.05 L76.95,255.14 L77.03,255.22 L77.11,255.30 L77.19,255.39 L77.27,255.47 L77.35,255.55 L77.43,255.63 L77.51,255.71 L77.59,255.78 L77.67,255.86 L77.75,255.94 L77.83,256.01 L77.91,256.08 L77.99,256.16 L78.08,256.23 L78.16,256.30 L78.24,256.37 L78.32,256.44 L78.40,256.51 L78.48,256.58 L78.56,256.65 L78.64,256.72 L78.72,256.78 L78.80,256.85 L78.88,256.91 L78.96,256.98 L79.04,257.04 L79.12,257.10 L79.20,257.17 L79.28,257.23 L79.36,257.29 L79.44,257.35 L79.52,257.41 L79.60,257.47 L79.68,257.53 L79.76,257.58 L79.84,257.64 L79.92,257.70 L80.00,257.75 L80.20,257.89 L80.87,258.32 L81.55,258.71 L82.22,259.06 L82.89,259.38 L83.57,259.67 L84.24,259.93 L84.91,260.17 L85.59,260.38 L86.26,260.57 L86.93,260.73 L87.61,260.88 L88.28,261.01 L88.95,261.12 L89.63,261.22 L90.30,261.30 L90.97,261.37 L91.65,261.43 L92.32,261.47 L92.99,261.51 L93.67,261.53 L94.34,261.54 L95.01,261.55 L95.69,261.54 L96.36,261.53 L97.03,261.52 L97.71,261.49 L98.38,261.46 L99.05,261.42 L99.73,261.38 L100.40,261.33 L101.07,261.28 L101.75,261.22 L102.42,261.16 L103.09,261.10 L103.77,261.03 L104.44,260.95 L105.11,260.88 L105.79,260.80 L106.46,260.72 L107.13,260.63 L107.81,260.54 L108.48,260.45 L109.15,260.36 L109.83,260.26 L110.50,260.17 L111.17,260.07 L111.85,259.97 L112.52,259.86 L113.19,259.76 L113.87,259.65 L114.54,259.54 L115.21,259.43 L115.89,259.32 L116.56,259.21 L117.23,259.10 L117.91,258.98 L118.58,258.87 L119.25,258.75 L119.93,258.63 L120.60,258.51 L121.27,258.39 L121.95,258.27 L122.62,258.15 L123.29,258.03 L123.97,257.90 L124.64,257.78 L125.31,257.65 L125.99,257.53 L126.66,257.40 L127.33,257.28 L128.01,257.15 L128.68,257.02 L129.35,256.89 L130.03,256.76 L130.70,256.63 L131.37,256.50 L132.05,256.37 L132.72,256.24 L133.39,256.11 L134.07,255.98 L134.74,255.85 L135.41,255.72 L136.09,255.59 L136.76,255.45 L137.43,255.32 L138.11,255.19 L138.78,255.05 L139.45,254.92 L140.13,254.79 L140.80,254.65 L141.47,254.52 L142.15,254.38 L142.82,254.25 L143.49,254.11 L144.17,253.98 L144.84,253.84 L145.51,253.71 L146.19,253.57 L146.86,253.43 L147.53,253.30 L148.21,253.16 L148.88,253.02 L149.55,252.89 L150.23,252.75 L150.90,252.61 L151.57,252.48 L152.25,252.34 L152.92,252.20 L153.59,252.06 L154.27,251.93 L154.94,251.79 L155.61,251.65 L156.29,251.51 L156.96,251.37 L157.63,251.24 L158.31,251.10 L158.98,250.96 L159.65,250.82 L160.33,250.68 L161.00,250.54 L161.67,250.41 L162.35,250.27 L163.02,250.13 L163.69,249.99 L164.37,249.85 L165.04,249.71 L165.72,249.57 L166.39,249.43 L167.06,249.29 L167.74,249.16 L168.41,249.02 L169.08,248.88 L169.76,248.74 L170.43,248.60 L171.10,248.46 L171.78,248.32 L172.45,248.18 L173.12,248.04 L173.80,247.90 L174.47,247.76 L175.14,247.62 L175.82,247.48 L176.49,247.34 L177.16,247.20 L177.84,247.06 L178.51,246.92 L179.18,246.78 L179.86,246.64 L180.53,246.50 L181.20,246.36 L181.88,246.22 L182.55,246.08 L183.22,245.94 L183.90,245.80 L184.57,245.66 L185.24,245.52 L185.92,245.38 L186.59,245.24 L187.26,245.10 L187.94,244.96 L188.61,244.82 L189.28,244.68 L189.96,244.54 L190.63,244.40 L191.30,244.26 L191.98,244.12 L192.65,243.98 L193.32,243.84 L194.00,243.70 L194.67,243.56 L195.34,243.42 L196.02,243.28 L196.69,243.14 L197.36,243.00 L198.04,242.86 L198.71,242.72 L199.38,242.58 L200.06,242.44 L200.73,242.30 L201.40,242.16 L202.08,242.02 L202.75,241.87 L203.42,241.73 L204.10,241.59 L204.77,241.45 L205.44,241.31 L206.12,241.17 L206.79,241.03 L207.46,240.89 L208.14,240.75 L208.81,240.61 L209.48,240.47 L210.16,240.33 L210.83,240.19 L211.50,240.05 L212.18,239.91 L212.85,239.77 L213.52,239.63 L214.20,239.48 L214.87,239.34 L215.54,239.20 L216.22,239.06 L216.89,238.92 L217.56,238.78 L218.24,238.64 L218.91,238.50 L219.58,238.36 L220.26,238.22 L220.93,238.08 L221.60,237.94 L222.28,237.80 L222.95,237.66 L223.62,237.52 L224.30,237.37 L224.97,237.23 L225.64,237.09 L226.32,236.95 L226.99,236.81 L227.66,236.67 L228.34,236.53 L229.01,236.39 L229.68,236.25 L230.36,236.11 L231.03,235.97 L231.70,235.83 L232.38,235.69 L233.05,235.54 L233.72,235.40 L234.40,235.26 L235.07,235.12 L235.74,234.98 L236.42,234.84 L237.09,234.70 L237.76,234.56 L238.44,234.42 L239.11,234.28 L239.78,234.14 L240.46,234.00 L241.13,233.86 L241.80,233.71 L242.48,233.57 L243.15,233.43 L243.82,233.29 L244.50,233.15 L245.17,233.01 L245.84,232.87 L246.52,232.73 L247.19,232.59 L247.86,232.45 L248.54,232.31 L249.21,232.17 L249.88,232.02 L250.56,231.88 L251.23,231.74 L251.90,231.60 L252.58,231.46 L253.25,231.31 L253.92,231.17 L254.60,231.03 L255.27,230.89 L255.94,230.74 L256.62,230.60 L257.29,230.46 L257.96,230.32 L258.64,230.17 L259.31,230.03 L259.98,229.89 L260.66,229.75 L261.33,229.60 L262.00,229.46 L262.68,229.32 L263.35,229.18 L264.02,229.03 L264.70,228.89 L265.37,228.75 L266.04,228.61 L266.72,228.46 L267.39,228.32 L268.06,228.18 L268.74,228.04 L269.41,227.89 L270.08,227.75 L270.76,227.61 L271.43,227.47 L272.10,227.32 L272.78,227.18 L273.45,227.04 L274.12,226.90 L274.80,226.75 L275.47,226.61 L276.14,226.47 L276.82,226.33 L277.49,226.18 L278.16,226.04 L278.84,225.90 L279.51,225.76 L280.18,225.62 L280.86,225.47 L281.53,225.33 L282.20,225.19 L282.88,225.05 L283.55,224.90 L284.22,224.76 L284.90,224.62 L285.57,224.48 L286.24,224.33 L286.92,224.19 L287.59,224.05 L288.26,223.91 L288.94,223.76 L289.61,223.62 L290.28,223.48 L290.96,223.34 L291.63,223.19 L292.30,223.05 L292.98,222.91 L293.65,222.77 L294.32,222.62 L295.00,222.48 L295.67,222.34 L296.34,222.20 L297.02,222.05 L297.69,221.91 L298.36,221.77 L299.04,221.63 L299.71,221.48 L300.38,221.34 L301.06,221.20 L301.73,221.06 L302.40,220.91 L303.08,220.77 L303.75,220.63 L304.42,220.49 L305.10,220.34 L305.77,220.20 L306.44,220.06 L307.12,219.92 L307.79,219.77 L308.46,219.63 L309.14,219.49 L309.81,219.35 L310.48,219.20 L311.16,219.06 L311.83,218.92 L312.50,218.78 L313.18,218.63 L313.85,218.49 L314.52,218.35 L315.20,218.21 L315.87,218.06 L316.54,217.92 L317.22,217.78 L317.89,217.64 L318.56,217.49 L319.24,217.35 L319.91,217.21 L320.58,217.07 L321.26,216.92 L321.93,216.78 L322.60,216.64 L323.28,216.50 L323.95,216.35 L324.62,216.21 L325.30,216.07 L325.97,215.93 L326.64,215.78 L327.32,215.64 L327.99,215.50 L328.66,215.36 L329.34,215.21 L330.01,215.07 L330.68,214.93 L331.36,214.79 L332.03,214.64 L332.71,214.50 L333.38,214.36 L334.05,214.22 L334.73,214.07 L335.40,213.93 L336.07,213.79 L336.75,213.65 L337.42,213.50 L338.09,213.36 L338.77,213.22 L339.44,213.08 L340.11,212.93 L340.79,212.79 L341.46,212.65 L342.13,212.51 L342.81,212.37 L343.48,212.22 L344.15,212.08 L344.83,211.94 L345.50,211.80 L346.17,211.65 L346.85,211.51 L347.52,211.37 L348.19,211.23 L348.87,211.08 L349.54,210.94 L350.21,210.80 L350.89,210.66 L351.56,210.51 L352.23,210.37 L352.91,210.23 L353.58,210.09 L354.25,209.94 L354.93,209.80 L355.60,209.66 L356.27,209.52 L356.95,209.37 L357.62,209.23 L358.29,209.09 L358.97,208.95 L359.64,208.80 L360.31,208.66 L360.99,208.52 L361.66,208.38 L362.33,208.23 L363.01,208.09 L363.68,207.95 L364.35,207.81 L365.03,207.66 L365.70,207.52 L366.37,207.38 L367.05,207.24 L367.72,207.09 L368.39,206.95 L369.07,206.81 L369.74,206.67 L370.41,206.52 L371.09,206.38 L371.76,206.24 L372.43,206.10 L373.11,205.95 L373.78,205.81 L374.45,205.67 L375.13,205.53 L375.80,205.38 L376.47,205.24 L377.15,205.10 L377.82,204.96 L378.49,204.81 L379.17,204.67 L379.84,204.53 L380.51,204.39 L381.19,204.24 L381.86,204.10 L382.53,203.96 L383.21,203.82 L383.88,203.67 L384.55,203.53 L385.23,203.39 L385.90,203.25 L386.57,203.10 L387.25,202.96 L387.92,202.82 L388.59,202.68 L389.27,202.53 L389.94,202.39 L390.61,202.25 L391.29,202.11 L391.96,201.96 L392.63,201.82 L393.31,201.68 L393.98,201.54 L394.65,201.39 L395.33,201.25 L396.00,201.11 L396.67,200.97 L397.35,200.82 L398.02,200.68 L398.69,200.54 L399.37,200.40 L400.04,200.25 L400.71,200.11 L401.39,199.97 L402.06,199.83 L402.73,199.68 L403.41,199.54 L404.08,199.40 L404.75,199.26 L405.43,199.11 L406.10,198.97 L406.77,198.83 L407.45,198.69 L408.12,198.54 L408.79,198.40 L409.47,198.26 L410.14,198.12 L410.81,197.97 L411.49,197.83 L412.16,197.69 L412.83,197.55 L413.51,197.40 L414.18,197.26 L414.85,197.12 L415.53,196.98 L416.20,196.83" fill="none" stroke="#ff0000" stroke-width="2.2" stroke-dasharray="3.2 2.995" stroke-dashoffset="3.10"/>
<path d="M54.02,40.43 L54.10,43.20 L54.18,45.92 L54.26,48.60 L54.34,51.24 L54.42,53.85 L54.50,56.41 L54.58,58.94 L54.66,61.42 L54.74,63.88 L54.82,66.29 L54.90,68.67 L54.98,71.02 L55.06,73.33 L55.14,75.61 L55.22,77.85 L55.30,80.07 L55.38,82.25 L55.46,84.39 L55.54,86.51 L55.62,88.60 L55.70,90.66 L55.78,92.68 L55.86,94.68 L55.94,96.65 L56.02,98.60 L56.10,100.51 L56.18,102.40 L56.26,104.26 L56.34,106.09 L56.42,107.90 L56.50,109.69 L56.58,111.45 L56.66,113.18 L56.74,114.89 L56.82,116.57 L56.90,118.24 L56.98,119.88 L57.06,121.49 L57.14,123.09 L57.22,124.66 L57.30,126.21 L57.38,127.74 L57.46,129.25 L57.54,130.74 L57.62,132.20 L57.70,133.65 L57.78,135.08 L57.86,136.49 L57.94,137.87 L58.03,139.25 L58.11,140.60 L58.19,141.93 L58.27,143.25 L58.35,144.55 L58.43,145.83 L58.51,147.09 L58.59,148.34 L58.67,149.57 L58.75,150.78 L58.83,151.98 L58.91,153.16 L58.99,154.33 L59.07,155.48 L59.15,156.61 L59.23,157.73 L59.31,158.84 L59.39,159.93 L59.47,161.01 L59.55,162.07 L59.63,163.12 L59.71,164.16 L59.79,165.18 L59.87,166.19 L59.95,167.18 L60.03,168.17 L60.11,169.14 L60.19,170.10 L60.27,171.04 L60.35,171.98 L60.43,172.90 L60.51,173.81 L60.59,174.71 L60.67,175.59 L60.75,176.47 L60.83,177.33 L60.91,178.19 L60.99,179.03 L61.07,179.86 L61.15,180.68 L61.23,181.50 L61.31,182.30 L61.39,183.09 L61.47,183.87 L61.55,184.64 L61.63,185.40 L61.71,186.16 L61.79,186.90 L61.87,187.63 L61.95,188.36 L62.04,189.07 L62.12,189.78 L62.20,190.48 L62.28,191.17 L62.36,191.85 L62.44,192.52 L62.52,193.19 L62.60,193.85 L62.68,194.49 L62.76,195.13 L62.84,195.77 L62.92,196.39 L63.00,197.01 L63.08,197.62 L63.16,198.22 L63.24,198.82 L63.32,199.41 L63.40,199.99 L63.48,200.56 L63.56,201.13 L63.64,201.69 L63.72,202.25 L63.80,202.79 L63.88,203.33 L63.96,203.87 L64.04,204.40 L64.12,204.92 L64.20,205.43 L64.28,205.94 L64.36,206.45 L64.44,206.94 L64.52,207.44 L64.60,207.92 L64.68,208.40 L64.76,208.88 L64.84,209.35 L64.92,209.81 L65.00,210.27 L65.08,210.72 L65.16,211.17 L65.24,211.61 L65.32,212.05 L65.40,212.48 L65.48,212.91 L65.56,213.33 L65.64,213.75 L65.72,214.16 L65.80,214.57 L65.88,214.97 L65.96,215.37 L66.05,215.76 L66.13,216.15 L66.21,216.54 L66.29,216.92 L66.37,217.29 L66.45,217.66 L66.53,218.03 L66.61,218.39 L66.69,218.75 L66.77,219.11 L66.85,219.46 L66.93,219.81 L67.01,220.15 L67.09,220.49 L67.17,220.83 L67.25,221.16 L67.33,221.49 L67.41,221.81 L67.49,222.13 L67.57,222.45 L67.65,222.76 L67.73,223.07 L67.81,223.38 L67.89,223.68 L67.97,223.98 L68.05,224.28 L68.13,224.57 L68.21,224.86 L68.29,225.15 L68.37,225.43 L68.45,225.71 L68.53,225.99 L68.61,226.26 L68.69,226.53 L68.77,226.80 L68.85,227.07 L68.93,227.33 L69.01,227.59 L69.09,227.85 L69.17,228.10 L69.25,228.35 L69.33,228.60 L69.41,228.85 L69.49,229.09 L69.57,229.33 L69.65,229.57 L69.73,229.80 L69.81,230.03 L69.89,230.26 L69.97,230.49 L70.06,230.72 L70.14,230.94 L70.22,231.16 L70.30,231.38 L70.38,231.59 L70.46,231.80 L70.54,232.02 L70.62,232.22 L70.70,232.43 L70.78,232.63 L70.86,232.84 L70.94,233.04 L71.02,233.23 L71.10,233.43 L71.18,233.62 L71.26,233.81 L71.34,234.00 L71.42,234.19 L71.50,234.37 L71.58,234.56 L71.66,234.74 L71.74,234.92 L71.82,235.09 L71.90,235.27 L71.98,235.44 L72.06,235.62 L72.14,235.78 L72.22,235.95 L72.30,236.12 L72.38,236.28 L72.46,236.45 L72.54,236.61 L72.62,236.77 L72.70,236.92 L72.78,237.08 L72.86,237.23 L72.94,237.39 L73.02,237.54 L73.10,237.69 L73.18,237.84 L73.26,237.98 L73.34,238.13 L73.42,238.27 L73.50,238.41 L73.58,238.55 L73.66,238.69 L73.74,238.83 L73.82,238.96 L73.90,239.10 L73.98,239.23 L74.07,239.36 L74.15,239.49 L74.23,239.62 L74.31,239.75 L74.39,239.87 L74.47,240.00 L74.55,240.12 L74.63,240.24 L74.71,240.37 L74.79,240.48 L74.87,240.60 L74.95,240.72 L75.03,240.84 L75.11,240.95 L75.19,241.06 L75.27,241.18 L75.35,241.29 L75.43,241.40 L75.51,241.51 L75.59,241.61 L75.67,241.72 L75.75,241.82 L75.83,241.93 L75.91,242.03 L75.99,242.13 L76.07,242.24 L76.15,242.34 L76.23,242.43 L76.31,242.53 L76.39,242.63 L76.47,242.72 L76.55,242.82 L76.63,242.91 L76.71,243.01 L76.79,243.10 L76.87,243.19 L76.95,243.28 L77.03,243.37 L77.11,243.45 L77.19,243.54 L77.27,243.63 L77.35,243.71 L77.43,243.80 L77.51,243.88 L77.59,243.96 L77.67,244.04 L77.75,244.13 L77.83,244.21 L77.91,244.28 L77.99,244.36 L78.08,244.44 L78.16,244.52 L78.24,244.59 L78.32,244.67 L78.40,244.74 L78.48,244.81 L78.56,244.89 L78.64,244.96 L78.72,245.03 L78.80,245.10 L78.88,245.17 L78.96,245.24 L79.04,245.31 L79.12,245.37 L79.20,245.44 L79.28,245.51 L79.36,245.57 L79.44,245.64 L79.52,245.70 L79.60,245.76 L79.68,245.83 L79.76,245.89 L79.84,245.95 L79.92,246.01 L80.00,246.07 L80.20,246.22 L80.88,246.71 L81.56,247.15 L82.24,247.56 L82.92,247.93 L83.59,248.27 L84.27,248.58 L84.95,248.86 L85.63,249.11 L86.31,249.34 L86.99,249.55 L87.67,249.73 L88.35,249.90 L89.03,250.05 L89.71,250.18 L90.38,250.28 L91.06,250.35 L91.74,250.41 L92.42,250.46 L93.10,250.50 L93.78,250.52 L94.46,250.54 L95.14,250.54 L95.82,250.54 L96.49,250.53 L97.17,250.50 L97.85,250.48 L98.53,250.44 L99.21,250.40 L99.89,250.35 L100.57,250.29 L101.25,250.23 L101.93,250.16 L102.61,250.09 L103.28,250.01 L103.96,249.93 L104.64,249.84 L105.32,249.75 L106.00,249.65 L106.68,249.55 L107.36,249.44 L108.04,249.34 L108.72,249.22 L109.40,249.11 L110.07,248.99 L110.75,248.87 L111.43,248.75 L112.11,248.62 L112.79,248.49 L113.47,248.36 L114.15,248.23 L114.83,248.10 L115.51,247.96 L116.18,247.82 L116.86,247.68 L117.54,247.54 L118.22,247.39 L118.90,247.25 L119.58,247.10 L120.26,246.96 L120.94,246.81 L121.62,246.66 L122.30,246.51 L122.97,246.36 L123.65,246.21 L124.33,246.06 L125.01,245.90 L125.69,245.75 L126.37,245.59 L127.05,245.43 L127.73,245.27 L128.41,245.12 L129.08,244.96 L129.76,244.79 L130.44,244.63 L131.12,244.47 L131.80,244.31 L132.48,244.14 L133.16,243.98 L133.84,243.81 L134.52,243.65 L135.20,243.48 L135.87,243.32 L136.55,243.15 L137.23,242.98 L137.91,242.81 L138.59,242.64 L139.27,242.47 L139.95,242.30 L140.63,242.13 L141.31,241.96 L141.99,241.79 L142.66,241.62 L143.34,241.44 L144.02,241.27 L144.70,241.10 L145.38,240.92 L146.06,240.75 L146.74,240.57 L147.42,240.40 L148.10,240.22 L148.77,240.05 L149.45,239.87 L150.13,239.70 L150.81,239.52 L151.49,239.34 L152.17,239.16 L152.85,238.99 L153.53,238.81 L154.21,238.63 L154.89,238.45 L155.56,238.27 L156.24,238.09 L156.92,237.92 L157.60,237.74 L158.28,237.56 L158.96,237.38 L159.64,237.20 L160.32,237.02 L161.00,236.84 L161.67,236.67 L162.35,236.50 L163.03,236.32 L163.71,236.15 L164.39,235.97 L165.07,235.80 L165.75,235.62 L166.43,235.45 L167.11,235.27 L167.79,235.09 L168.46,234.92 L169.14,234.74 L169.82,234.56 L170.50,234.39 L171.18,234.21 L171.86,234.03 L172.54,233.86 L173.22,233.68 L173.90,233.50 L174.58,233.32 L175.25,233.15 L175.93,232.97 L176.61,232.79 L177.29,232.61 L177.97,232.43 L178.65,232.25 L179.33,232.08 L180.01,231.90 L180.69,231.72 L181.36,231.54 L182.04,231.36 L182.72,231.18 L183.40,231.00 L184.08,230.82 L184.76,230.64 L185.44,230.46 L186.12,230.28 L186.80,230.10 L187.48,229.92 L188.15,229.74 L188.83,229.56 L189.51,229.38 L190.19,229.20 L190.87,229.02 L191.55,228.84 L192.23,228.66 L192.91,228.48 L193.59,228.30 L194.26,228.12 L194.94,227.93 L195.62,227.75 L196.30,227.57 L196.98,227.39 L197.66,227.21 L198.34,227.03 L199.02,226.85 L199.70,226.66 L200.38,226.48 L201.05,226.30 L201.73,226.12 L202.41,225.94 L203.09,225.75 L203.77,225.57 L204.45,225.39 L205.13,225.21 L205.81,225.02 L206.49,224.84 L207.17,224.66 L207.84,224.48 L208.52,224.29 L209.20,224.11 L209.88,223.93 L210.56,223.74 L211.24,223.56 L211.92,223.38 L212.60,223.19 L213.28,223.01 L213.95,222.83 L214.63,222.64 L215.31,222.46 L215.99,222.28 L216.67,222.09 L217.35,221.91 L218.03,221.73 L218.71,221.54 L219.39,221.36 L220.07,221.18 L220.74,220.99 L221.42,220.81 L222.10,220.62 L222.78,220.44 L223.46,220.26 L224.14,220.07 L224.82,219.89 L225.50,219.70 L226.18,219.52 L226.85,219.33 L227.53,219.15 L228.21,218.96 L228.89,218.78 L229.57,218.60 L230.25,218.41 L230.93,218.23 L231.61,218.04 L232.29,217.86 L232.97,217.67 L233.64,217.49 L234.32,217.30 L235.00,217.12 L235.68,216.93 L236.36,216.75 L237.04,216.56 L237.72,216.38 L238.40,216.19 L239.08,216.01 L239.76,215.82 L240.43,215.64 L241.11,215.45 L241.79,215.26 L242.47,215.08 L243.15,214.89 L243.83,214.71 L244.51,214.52 L245.19,214.34 L245.87,214.15 L246.54,213.97 L247.22,213.78 L247.90,213.59 L248.58,213.41 L249.26,213.22 L249.94,213.04 L250.62,212.85 L251.30,212.67 L251.98,212.48 L252.66,212.29 L253.33,212.11 L254.01,211.92 L254.69,211.74 L255.37,211.55 L256.05,211.36 L256.73,211.18 L257.41,210.99 L258.09,210.80 L258.77,210.62 L259.44,210.43 L260.12,210.25 L260.80,210.06 L261.48,209.87 L262.16,209.69 L262.84,209.50 L263.52,209.31 L264.20,209.13 L264.88,208.94 L265.56,208.75 L266.23,208.57 L266.91,208.38 L267.59,208.19 L268.27,208.01 L268.95,207.82 L269.63,207.63 L270.31,207.45 L270.99,207.26 L271.67,207.07 L272.35,206.89 L273.02,206.70 L273.70,206.51 L274.38,206.32 L275.06,206.14 L275.74,205.95 L276.42,205.76 L277.10,205.58 L277.78,205.39 L278.46,205.20 L279.13,205.02 L279.81,204.83 L280.49,204.64 L281.17,204.45 L281.85,204.27 L282.53,204.08 L283.21,203.89 L283.89,203.70 L284.57,203.52 L285.25,203.33 L285.92,203.14 L286.60,202.96 L287.28,202.77 L287.96,202.58 L288.64,202.39 L289.32,202.21 L290.00,202.02 L290.68,201.83 L291.36,201.64 L292.03,201.46 L292.71,201.27 L293.39,201.08 L294.07,200.89 L294.75,200.70 L295.43,200.52 L296.11,200.33 L296.79,200.14 L297.47,199.95 L298.15,199.77 L298.82,199.58 L299.50,199.39 L300.18,199.20 L300.86,199.02 L301.54,198.83 L302.22,198.64 L302.90,198.45 L303.58,198.26 L304.26,198.08 L304.94,197.89 L305.61,197.70 L306.29,197.51 L306.97,197.32 L307.65,197.14 L308.33,196.95 L309.01,196.76 L309.69,196.57 L310.37,196.38 L311.05,196.20 L311.72,196.01 L312.40,195.82 L313.08,195.63 L313.76,195.44 L314.44,195.25 L315.12,195.07 L315.80,194.88 L316.48,194.69 L317.16,194.50 L317.84,194.31 L318.51,194.13 L319.19,193.94 L319.87,193.75 L320.55,193.56 L321.23,193.37 L321.91,193.18 L322.59,193.00 L323.27,192.81 L323.95,192.62 L324.62,192.43 L325.30,192.24 L325.98,192.05 L326.66,191.87 L327.34,191.68 L328.02,191.49 L328.70,191.30 L329.38,191.11 L330.06,190.92 L330.74,190.73 L331.41,190.55 L332.09,190.36 L332.77,190.17 L333.45,189.98 L334.13,189.79 L334.81,189.60 L335.49,189.41 L336.17,189.23 L336.85,189.04 L337.53,188.85 L338.20,188.66 L338.88,188.47 L339.56,188.28 L340.24,188.09 L340.92,187.90 L341.60,187.72 L342.28,187.53 L342.96,187.34 L343.64,187.15 L344.31,186.96 L344.99,186.77 L345.67,186.58 L346.35,186.39 L347.03,186.21 L347.71,186.02 L348.39,185.83 L349.07,185.64 L349.75,185.45 L350.43,185.26 L351.10,185.07 L351.78,184.88 L352.46,184.69 L353.14,184.51 L353.82,184.32 L354.50,184.13 L355.18,183.94 L355.86,183.75 L356.54,183.56 L357.21,183.37 L357.89,183.18 L358.57,182.99 L359.25,182.80 L359.93,182.61 L360.61,182.43 L361.29,182.24 L361.97,182.05 L362.65,181.86 L363.33,181.67 L364.00,181.48 L364.68,181.29 L365.36,181.10 L366.04,180.91 L366.72,180.72 L367.40,180.53 L368.08,180.35 L368.76,180.16 L369.44,179.97 L370.12,179.78 L370.79,179.59 L371.47,179.40 L372.15,179.21 L372.83,179.02 L373.51,178.83 L374.19,178.64 L374.87,178.45 L375.55,178.26 L376.23,178.07 L376.90,177.89 L377.58,177.70 L378.26,177.51 L378.94,177.32 L379.62,177.13 L380.30,176.94 L380.98,176.75 L381.66,176.56 L382.34,176.37 L383.02,176.18 L383.69,175.99 L384.37,175.80 L385.05,175.61 L385.73,175.42 L386.41,175.23 L387.09,175.04 L387.77,174.86 L388.45,174.67 L389.13,174.48 L389.80,174.29 L390.48,174.10 L391.16,173.91 L391.84,173.72 L392.52,173.53 L393.20,173.34 L393.88,173.15 L394.56,172.96 L395.24,172.77 L395.92,172.58 L396.59,172.39 L397.27,172.20 L397.95,172.01 L398.63,171.82 L399.31,171.63 L399.99,171.44 L400.67,171.25 L401.35,171.06 L402.03,170.87 L402.71,170.69 L403.38,170.50 L404.06,170.31 L404.74,170.12 L405.42,169.93 L406.10,169.74 L406.78,169.55 L407.46,169.36 L408.14,169.17 L408.82,168.98 L409.49,168.79 L410.17,168.60 L410.85,168.41 L411.53,168.22 L412.21,168.03 L412.89,167.84 L413.57,167.65 L414.25,167.46 L414.93,167.27 L415.61,167.08 L416.28,166.89 L416.96,166.70 L417.64,166.51 L418.32,166.32 L419.00,166.13" fill="none" stroke="#800080" stroke-width="2.2" stroke-dasharray="6.7 3.1 3.1 3.21" stroke-dashoffset="15.30"/>
<path d="M54.50,41.14 L54.58,43.69 L54.66,46.20 L54.74,48.68 L54.82,51.12 L54.90,53.52 L54.98,55.89 L55.06,58.22 L55.14,60.52 L55.22,62.79 L55.30,65.03 L55.38,67.23 L55.46,69.40 L55.54,71.54 L55.62,73.65 L55.70,75.73 L55.78,77.78 L55.86,79.80 L55.94,81.79 L56.02,83.75 L56.10,85.69 L56.18,87.60 L56.26,89.48 L56.34,91.33 L56.42,93.16 L56.50,94.97 L56.58,96.75 L56.66,98.50 L56.74,100.23 L56.82,101.94 L56.90,103.62 L56.98,105.28 L57.06,106.92 L57.14,108.53 L57.22,110.12 L57.30,111.69 L57.38,113.24 L57.46,114.77 L57.54,116.27 L57.62,117.76 L57.70,119.23 L57.78,120.67 L57.86,122.10 L57.94,123.51 L58.03,124.90 L58.11,126.27 L58.19,127.62 L58.27,128.95 L58.35,130.27 L58.43,131.57 L58.51,132.85 L58.59,134.11 L58.67,135.36 L58.75,136.59 L58.83,137.81 L58.91,139.01 L58.99,140.19 L59.07,141.36 L59.15,142.51 L59.23,143.65 L59.31,144.77 L59.39,145.88 L59.47,146.98 L59.55,148.06 L59.63,149.12 L59.71,150.18 L59.79,151.21 L59.87,152.24 L59.95,153.25 L60.03,154.25 L60.11,155.24 L60.19,156.21 L60.27,157.17 L60.35,158.12 L60.43,159.06 L60.51,159.99 L60.59,160.90 L60.67,161.80 L60.75,162.70 L60.83,163.57 L60.91,164.44 L60.99,165.30 L61.07,166.15 L61.15,166.99 L61.23,167.81 L61.31,168.63 L61.39,169.43 L61.47,170.23 L61.55,171.02 L61.63,171.79 L61.71,172.56 L61.79,173.32 L61.87,174.07 L61.95,174.81 L62.04,175.54 L62.12,176.26 L62.20,176.97 L62.28,177.67 L62.36,178.37 L62.44,179.06 L62.52,179.73 L62.60,180.40 L62.68,181.07 L62.76,181.72 L62.84,182.37 L62.92,183.01 L63.00,183.64 L63.08,184.26 L63.16,184.88 L63.24,185.49 L63.32,186.09 L63.40,186.68 L63.48,187.27 L63.56,187.85 L63.64,188.42 L63.72,188.99 L63.80,189.55 L63.88,190.10 L63.96,190.65 L64.04,191.19 L64.12,191.72 L64.20,192.25 L64.28,192.77 L64.36,193.29 L64.44,193.80 L64.52,194.30 L64.60,194.80 L64.68,195.29 L64.76,195.78 L64.84,196.26 L64.92,196.74 L65.00,197.20 L65.08,197.67 L65.16,198.13 L65.24,198.58 L65.32,199.03 L65.40,199.47 L65.48,199.91 L65.56,200.35 L65.64,200.77 L65.72,201.20 L65.80,201.62 L65.88,202.03 L65.96,202.44 L66.05,202.85 L66.13,203.25 L66.21,203.64 L66.29,204.03 L66.37,204.42 L66.45,204.80 L66.53,205.18 L66.61,205.55 L66.69,205.92 L66.77,206.29 L66.85,206.65 L66.93,207.01 L67.01,207.36 L67.09,207.71 L67.17,208.06 L67.25,208.40 L67.33,208.74 L67.41,209.07 L67.49,209.40 L67.57,209.73 L67.65,210.05 L67.73,210.37 L67.81,210.69 L67.89,211.00 L67.97,211.31 L68.05,211.62 L68.13,211.92 L68.21,212.22 L68.29,212.52 L68.37,212.81 L68.45,213.10 L68.53,213.39 L68.61,213.67 L68.69,213.95 L68.77,214.23 L68.85,214.50 L68.93,214.77 L69.01,215.04 L69.09,215.31 L69.17,215.57 L69.25,215.83 L69.33,216.09 L69.41,216.34 L69.49,216.59 L69.57,216.84 L69.65,217.09 L69.73,217.33 L69.81,217.57 L69.89,217.81 L69.97,218.05 L70.06,218.28 L70.14,218.51 L70.22,218.74 L70.30,218.96 L70.38,219.19 L70.46,219.41 L70.54,219.63 L70.62,219.85 L70.70,220.06 L70.78,220.27 L70.86,220.48 L70.94,220.69 L71.02,220.89 L71.10,221.10 L71.18,221.30 L71.26,221.50 L71.34,221.69 L71.42,221.89 L71.50,222.08 L71.58,222.27 L71.66,222.46 L71.74,222.65 L71.82,222.83 L71.90,223.01 L71.98,223.20 L72.06,223.37 L72.14,223.55 L72.22,223.73 L72.30,223.90 L72.38,224.07 L72.46,224.24 L72.54,224.41 L72.62,224.58 L72.70,224.74 L72.78,224.90 L72.86,225.07 L72.94,225.23 L73.02,225.38 L73.10,225.54 L73.18,225.69 L73.26,225.85 L73.34,226.00 L73.42,226.15 L73.50,226.30 L73.58,226.44 L73.66,226.59 L73.74,226.73 L73.82,226.87 L73.90,227.02 L73.98,227.15 L74.07,227.29 L74.15,227.43 L74.23,227.56 L74.31,227.70 L74.39,227.83 L74.47,227.96 L74.55,228.09 L74.63,228.22 L74.71,228.35 L74.79,228.47 L74.87,228.60 L74.95,228.72 L75.03,228.84 L75.11,228.96 L75.19,229.08 L75.27,229.20 L75.35,229.32 L75.43,229.43 L75.51,229.55 L75.59,229.66 L75.67,229.77 L75.75,229.88 L75.83,229.99 L75.91,230.10 L75.99,230.21 L76.07,230.32 L76.15,230.42 L76.23,230.53 L76.31,230.63 L76.39,230.73 L76.47,230.83 L76.55,230.93 L76.63,231.03 L76.71,231.13 L76.79,231.23 L76.87,231.32 L76.95,231.42 L77.03,231.51 L77.11,231.60 L77.19,231.70 L77.27,231.79 L77.35,231.88 L77.43,231.97 L77.51,232.06 L77.59,232.14 L77.67,232.23 L77.75,232.32 L77.83,232.40 L77.91,232.48 L77.99,232.57 L78.08,232.65 L78.16,232.73 L78.24,232.81 L78.32,232.89 L78.40,232.97 L78.48,233.05 L78.56,233.13 L78.64,233.20 L78.72,233.28 L78.80,233.35 L78.88,233.43 L78.96,233.50 L79.04,233.57 L79.12,233.64 L79.20,233.71 L79.28,233.78 L79.36,233.85 L79.44,233.92 L79.52,233.99 L79.60,234.06 L79.68,234.13 L79.76,234.19 L79.84,234.26 L79.92,234.32 L80.00,234.38 L80.20,234.55 L80.88,235.09 L81.56,235.58 L82.24,236.03 L82.92,236.44 L83.59,236.82 L84.27,237.17 L84.95,237.48 L85.63,237.77 L86.31,238.04 L86.99,238.28 L87.67,238.49 L88.35,238.69 L89.03,238.87 L89.71,239.03 L90.38,239.15 L91.06,239.24 L91.74,239.32 L92.42,239.38 L93.10,239.43 L93.78,239.47 L94.46,239.49 L95.14,239.51 L95.82,239.51 L96.49,239.51 L97.17,239.49 L97.85,239.47 L98.53,239.44 L99.21,239.40 L99.89,239.36 L100.57,239.30 L101.25,239.24 L101.93,239.18 L102.61,239.11 L103.28,239.03 L103.96,238.95 L104.64,238.86 L105.32,238.77 L106.00,238.67 L106.68,238.57 L107.36,238.47 L108.04,238.36 L108.72,238.25 L109.40,238.13 L110.07,238.01 L110.75,237.87 L111.43,237.73 L112.11,237.59 L112.79,237.45 L113.47,237.30 L114.15,237.15 L114.83,236.99 L115.51,236.84 L116.18,236.68 L116.86,236.52 L117.54,236.36 L118.22,236.19 L118.90,236.03 L119.58,235.86 L120.26,235.69 L120.94,235.52 L121.62,235.34 L122.30,235.17 L122.97,234.99 L123.65,234.81 L124.33,234.63 L125.01,234.45 L125.69,234.27 L126.37,234.08 L127.05,233.90 L127.73,233.71 L128.41,233.52 L129.08,233.33 L129.76,233.14 L130.44,232.96 L131.12,232.78 L131.80,232.60 L132.48,232.42 L133.16,232.24 L133.84,232.05 L134.52,231.87 L135.20,231.68 L135.87,231.50 L136.55,231.31 L137.23,231.12 L137.91,230.93 L138.59,230.74 L139.27,230.55 L139.95,230.36 L140.63,230.17 L141.31,229.97 L141.99,229.78 L142.66,229.59 L143.34,229.39 L144.02,229.20 L144.70,229.00 L145.38,228.80 L146.06,228.61 L146.74,228.41 L147.42,228.21 L148.10,228.01 L148.77,227.81 L149.45,227.61 L150.13,227.41 L150.81,227.21 L151.49,227.01 L152.17,226.81 L152.85,226.61 L153.53,226.40 L154.21,226.20 L154.89,226.00 L155.56,225.79 L156.24,225.59 L156.92,225.38 L157.60,225.18 L158.28,224.97 L158.96,224.76 L159.64,224.56 L160.32,224.35 L161.00,224.14 L161.67,223.93 L162.35,223.73 L163.03,223.52 L163.71,223.31 L164.39,223.10 L165.07,222.89 L165.75,222.68 L166.43,222.47 L167.11,222.26 L167.79,222.05 L168.46,221.84 L169.14,221.63 L169.82,221.41 L170.50,221.20 L171.18,220.99 L171.86,220.78 L172.54,220.56 L173.22,220.35 L173.90,220.14 L174.58,219.92 L175.25,219.71 L175.93,219.50 L176.61,219.28 L177.29,219.07 L177.97,218.85 L178.65,218.64 L179.33,218.42 L180.01,218.21 L180.69,217.99 L181.36,217.77 L182.04,217.56 L182.72,217.34 L183.40,217.12 L184.08,216.91 L184.76,216.69 L185.44,216.47 L186.12,216.25 L186.80,216.04 L187.48,215.82 L188.15,215.60 L188.83,215.38 L189.51,215.16 L190.19,214.95 L190.87,214.73 L191.55,214.51 L192.23,214.29 L192.91,214.07 L193.59,213.85 L194.26,213.63 L194.94,213.41 L195.62,213.19 L196.30,212.97 L196.98,212.75 L197.66,212.53 L198.34,212.31 L199.02,212.09 L199.70,211.86 L200.38,211.65 L201.05,211.43 L201.73,211.22 L202.41,211.00 L203.09,210.79 L203.77,210.57 L204.45,210.36 L205.13,210.14 L205.81,209.92 L206.49,209.71 L207.17,209.49 L207.84,209.28 L208.52,209.06 L209.20,208.84 L209.88,208.63 L210.56,208.41 L211.24,208.19 L211.92,207.98 L212.60,207.76 L213.28,207.54 L213.95,207.32 L214.63,207.11 L215.31,206.89 L215.99,206.67 L216.67,206.45 L217.35,206.24 L218.03,206.02 L218.71,205.80 L219.39,205.58 L220.07,205.36 L220.74,205.14 L221.42,204.93 L222.10,204.71 L222.78,204.49 L223.46,204.27 L224.14,204.05 L224.82,203.83 L225.50,203.61 L226.18,203.39 L226.85,203.17 L227.53,202.95 L228.21,202.73 L228.89,202.51 L229.57,202.29 L230.25,202.07 L230.93,201.85 L231.61,201.63 L232.29,201.41 L232.97,201.19 L233.64,200.97 L234.32,200.75 L235.00,200.53 L235.68,200.31 L236.36,200.09 L237.04,199.87 L237.72,199.65 L238.40,199.43 L239.08,199.21 L239.76,198.99 L240.43,198.77 L241.11,198.54 L241.79,198.32 L242.47,198.10 L243.15,197.88 L243.83,197.66 L244.51,197.44 L245.19,197.22 L245.87,196.99 L246.54,196.77 L247.22,196.55 L247.90,196.33 L248.58,196.11 L249.26,195.88 L249.94,195.66 L250.62,195.44 L251.30,195.22 L251.98,194.99 L252.66,194.77 L253.33,194.55 L254.01,194.33 L254.69,194.10 L255.37,193.88 L256.05,193.66 L256.73,193.44 L257.41,193.21 L258.09,192.99 L258.77,192.77 L259.44,192.54 L260.12,192.32 L260.80,192.09 L261.48,191.86 L262.16,191.63 L262.84,191.40 L263.52,191.17 L264.20,190.95 L264.88,190.72 L265.56,190.49 L266.23,190.26 L266.91,190.03 L267.59,189.80 L268.27,189.57 L268.95,189.34 L269.63,189.11 L270.31,188.88 L270.99,188.65 L271.67,188.42 L272.35,188.19 L273.02,187.96 L273.70,187.73 L274.38,187.50 L275.06,187.27 L275.74,187.04 L276.42,186.81 L277.10,186.58 L277.78,186.35 L278.46,186.12 L279.13,185.89 L279.81,185.66 L280.49,185.43 L281.17,185.20 L281.85,184.97 L282.53,184.74 L283.21,184.51 L283.89,184.28 L284.57,184.04 L285.25,183.81 L285.92,183.58 L286.60,183.35 L287.28,183.12 L287.96,182.89 L288.64,182.66 L289.32,182.43 L290.00,182.20 L290.68,181.97 L291.36,181.73 L292.03,181.50 L292.71,181.27 L293.39,181.04 L294.07,180.81 L294.75,180.58 L295.43,180.35 L296.11,180.12 L296.79,179.88 L297.47,179.65 L298.15,179.42 L298.82,179.19 L299.50,178.96 L300.18,178.73 L300.86,178.49 L301.54,178.26 L302.22,178.03 L302.90,177.80 L303.58,177.57 L304.26,177.34 L304.94,177.10 L305.61,176.87 L306.29,176.64 L306.97,176.41 L307.65,176.17 L308.33,175.94 L309.01,175.71 L309.69,175.48 L310.37,175.25 L311.05,175.01 L311.72,174.78 L312.40,174.55 L313.08,174.32 L313.76,174.08 L314.44,173.85 L315.12,173.62 L315.80,173.39 L316.48,173.15 L317.16,172.92 L317.84,172.69 L318.51,172.46 L319.19,172.22 L319.87,171.99 L320.55,171.76 L321.23,171.53 L321.91,171.29 L322.59,171.06 L323.27,170.83 L323.95,170.59 L324.62,170.36 L325.30,170.13 L325.98,169.90 L326.66,169.66 L327.34,169.43 L328.02,169.20 L328.70,168.96 L329.38,168.73 L330.06,168.50 L330.74,168.26 L331.41,168.03 L332.09,167.80 L332.77,167.57 L333.45,167.33 L334.13,167.10 L334.81,166.87 L335.49,166.63 L336.17,166.40 L336.85,166.17 L337.53,165.93 L338.20,165.70 L338.88,165.46 L339.56,165.23 L340.24,165.00 L340.92,164.76 L341.60,164.53 L342.28,164.30 L342.96,164.06 L343.64,163.83 L344.31,163.60 L344.99,163.36 L345.67,163.13 L346.35,162.90 L347.03,162.66 L347.71,162.43 L348.39,162.19 L349.07,161.96 L349.75,161.73 L350.43,161.49 L351.10,161.26 L351.78,161.02 L352.46,160.79 L353.14,160.56 L353.82,160.32 L354.50,160.09 L355.18,159.85 L355.86,159.62 L356.54,159.39 L357.21,159.15 L357.89,158.92 L358.57,158.68 L359.25,158.45 L359.93,158.22 L360.61,157.98 L361.29,157.75 L361.97,157.51 L362.65,157.28 L363.33,157.04 L364.00,156.81 L364.68,156.58 L365.36,156.34 L366.04,156.11 L366.72,155.87 L367.40,155.64 L368.08,155.40 L368.76,155.17 L369.44,154.93 L370.12,154.70 L370.79,154.47 L371.47,154.23 L372.15,154.00 L372.83,153.76 L373.51,153.53 L374.19,153.29 L374.87,153.06 L375.55,152.82 L376.23,152.59 L376.90,152.35 L377.58,152.12 L378.26,151.88 L378.94,151.65 L379.62,151.42 L380.30,151.18 L380.98,150.95 L381.66,150.71 L382.34,150.48 L383.02,150.24 L383.69,150.01 L384.37,149.77 L385.05,149.54 L385.73,149.30 L386.41,149.07 L387.09,148.83 L387.77,148.60 L388.45,148.36 L389.13,148.13 L389.80,147.89 L390.48,147.66 L391.16,147.42 L391.84,147.19 L392.52,146.95 L393.20,146.72 L393.88,146.48 L394.56,146.25 L395.24,146.01 L395.92,145.78 L396.59,145.54 L397.27,145.31 L397.95,145.07 L398.63,144.84 L399.31,144.60 L399.99,144.37 L400.67,144.13 L401.35,143.89 L402.03,143.66 L402.71,143.42 L403.38,143.19 L404.06,142.95 L404.74,142.72 L405.42,142.48 L406.10,142.25 L406.78,142.01 L407.46,141.78 L408.14,141.54 L408.82,141.31 L409.49,141.07 L410.17,140.83 L410.85,140.60 L411.53,140.36 L412.21,140.13 L412.89,139.89 L413.57,139.66 L414.25,139.42 L414.93,139.19 L415.61,138.95 L416.28,138.72 L416.96,138.48 L417.64,138.24 L418.32,138.01 L419.00,137.77" fill="none" stroke="#00ff00" stroke-width="2.2" stroke-dasharray="14.3 14.22" stroke-dashoffset="19.26"/>
</g>
<path d="M465.9,95.3H515.5" stroke="#ff00ff" stroke-width="2" fill="none"/>
<text transform="translate(523.6,99.9) scale(1,1.08)" font-size="15.7px" fill="#111">&#923;<tspan dx="1.1">=0.3</tspan></text>
<path d="M465.9,122.0H515.5" stroke="#0000ff" stroke-width="2" fill="none" stroke-dasharray="14.3 14.2"/>
<text transform="translate(523.6,126.6) scale(1,1.08)" font-size="15.7px" fill="#111">&#923;<tspan dx="1.1">=0.4</tspan></text>
<path d="M465.9,148.7H515.5" stroke="#ff0000" stroke-width="2" fill="none" stroke-dasharray="2.9 3.43"/>
<text transform="translate(523.6,153.3) scale(1,1.08)" font-size="15.7px" fill="#111">&#923;<tspan dx="1.1">=0.6</tspan></text>
<path d="M465.9,175.3H512.5" stroke="#800080" stroke-width="2" fill="none" stroke-dasharray="3 3.3 6.6 3.3"/>
<text transform="translate(523.6,179.9) scale(1,1.08)" font-size="15.7px" fill="#111">&#923;<tspan dx="1.1">=0.8</tspan></text>
<path d="M465.9,202.0H515.5" stroke="#00ff00" stroke-width="2" fill="none" stroke-dasharray="14.3 14.2"/>
<text transform="translate(523.6,206.6) scale(1,1.08)" font-size="15.7px" fill="#111">&#923;<tspan dx="1.1">=1</tspan></text>
</svg>
</body></html>
